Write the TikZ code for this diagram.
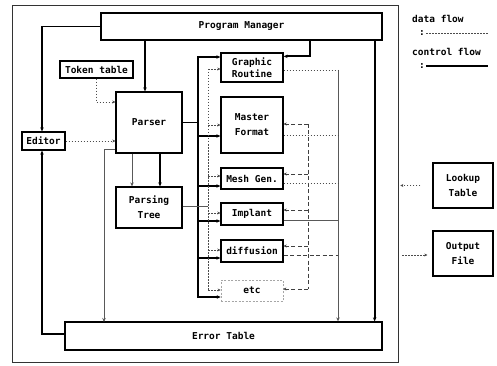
\documentclass[tikz,border=0pt]{standalone}
\usepackage{fontspec}
\setmonofont{DejaVu Sans Mono}
\usetikzlibrary{arrows.meta,calc}
\newcommand{\fnt}{\ttfamily\bfseries\fontsize{9.5}{15}\selectfont}
\tikzset{
  box/.style={draw, line width=1.3pt, inner sep=0pt, font=\fnt, align=center},
  ctrl/.style={line width=1.8pt},
  data/.style={line width=0.6pt, dash pattern=on 1.5pt off 1.5pt, gray!60!black},
  dsh/.style={line width=0.5pt, dash pattern=on 4pt off 2.5pt, gray!50!black},
  thinl/.style={line width=0.7pt, gray!70!black},
  arr/.style={-{Stealth[length=4pt,width=3.5pt]}},
  sarr/.style={-{Stealth[length=3pt,width=3pt]}},
  lbl/.style={font=\fnt, inner sep=0pt, anchor=base west}
}
\begin{document}
\begin{tikzpicture}[x=1pt,y=-1pt]
\useasboundingbox[fill=white] (0,0) rectangle (497,366);
% outer frame
\draw[line width=0.7pt, black!80] (12,5) rectangle (398,362);
% nodes
\node[box, minimum width=281, minimum height=27] (pm) at (241.5,26.5) {Program Manager};
\node[box, minimum width=73, minimum height=17] (token) at (96.5,69.5) {Token table};
\node[box, minimum width=43, minimum height=18] (editor) at (43.5,141) {Editor};
\node[box, minimum width=66, minimum height=61] (parser) at (149,122.5) {Parser};
\node[box, minimum width=66, minimum height=41] (ptree) at (149,207.5) {Parsing\\Tree};
\node[box, minimum width=62, minimum height=29, font=\ttfamily\bfseries\fontsize{9.5}{12}\selectfont] (graphic) at (252,67.5) {Graphic\\Routine};
\node[box, minimum width=62, minimum height=56] (master) at (252,125) {Master\\Format};
\node[box, minimum width=62, minimum height=21] (mesh) at (252,178.5) {Mesh Gen.};
\node[box, minimum width=62, minimum height=22] (implant) at (252,214) {Implant};
\node[box, minimum width=62, minimum height=22] (diffusion) at (252,251) {diffusion};
\node[box, draw=gray!70, line width=0.7pt, dash pattern=on 2pt off 1.5pt, minimum width=62, minimum height=21] (etc) at (252,290.5) {etc};
\node[box, minimum width=317, minimum height=28] (error) at (223.5,336) {Error Table};
\node[box, minimum width=60, minimum height=45] (lookup) at (463,185.5) {Lookup\\Table};
\node[box, minimum width=60, minimum height=45] (output) at (463,253.5) {Output\\File};
% legend
\node[lbl] (l1) at (412,23) {data flow};
\node[lbl] (l2) at (419,36) {:};
\coordinate (l2a) at (426,33);
\coordinate (l2b) at (488,33);
\draw[data] (l2a) -- (l2b);
\node[lbl] (l3) at (412,56) {control flow};
\node[lbl] (l4) at (419,69) {:};
\coordinate (l4a) at (426,66);
\coordinate (l4b) at (488,66);
\draw[ctrl] (l4a) -- (l4b);
% control flow
\draw[ctrl,arr] (pm.west) -| ([xshift=-1.5pt]editor.north);
\draw[ctrl,arr] ([yshift=2pt]error.west) -| ([xshift=-1.5pt]editor.south);
\draw[ctrl,arr] ([xshift=-4pt]parser.north |- pm.south) -- ([xshift=-4pt]parser.north);
\draw[ctrl,arr] ([xshift=210pt]pm.south west) |- ([yshift=-4pt]graphic.north east);
\draw[ctrl,arr] ([xshift=-8pt]pm.south east) -- ([xshift=-8pt]error.north east);
\draw[ctrl,arr] ([xshift=11pt]parser.south) -- ([xshift=11pt]ptree.north);
\draw[thinl,arr] ([xshift=-17pt]parser.south) -- ([xshift=-17pt]ptree.north);
% control bus
\coordinate (cb1) at (198,57);
\coordinate (cb2) at (198,297);
\draw[ctrl] ([yshift=0.9pt]cb1) -- ([yshift=-0.9pt]cb2);
\draw[ctrl] (parser.east) -- (parser.east -| cb1);
\foreach \n/\y in {graphic/57, master/136, mesh/186, implant/221, diffusion/258, etc/297}
  \draw[ctrl,arr] (cb1 |- 0,\y) -- (\n.west |- 0,\y);
% parser -> error table
\draw[thinl,arr] ([yshift=-26.5pt]parser.west) -| (104,322);
% editor -> parser, token table -> parser
\draw[data,sarr] (editor.east) -- (editor.east -| parser.west);
\draw[data,sarr] ([xshift=-0.5pt]token.south) |- ([yshift=20.5pt]parser.west);
% data bus from parsing tree
\coordinate (db1) at (208,69);
\coordinate (db2) at (208,290);
\draw[data] (db1) -- (db2);
\draw[thinl] ([yshift=1.5pt]ptree.east) -- ([yshift=1.5pt]ptree.east -| db1);
\foreach \n/\y in {graphic/69, master/125, mesh/176, implant/213, diffusion/250, etc/290}
  \draw[data,sarr] (db1 |- 0,\y) -- (\n.west |- 0,\y);
% lookup bus
\coordinate (lb1) at (308,124);
\coordinate (lb2) at (308,289);
\draw[dsh] (lb1) -- (lb2);
\foreach \n/\y in {master/124, mesh/174, implant/210, diffusion/246, etc/289}
  \draw[dsh,sarr] (lb1 |- 0,\y) -- (\n.east |- 0,\y);
% error bus
\coordinate (eb1) at (338,70);
\draw[thinl,arr] (eb1) -- (eb1 |- error.north);
\draw[data] (graphic.east |- eb1) -- (eb1);
\draw[data] (master.east |- 0,135) -- (eb1 |- 0,135);
\draw[data] (mesh.east |- 0,183) -- (eb1 |- 0,183);
\draw[thinl] (implant.east |- 0,220) -- (eb1 |- 0,220);
\draw[dsh] (diffusion.east |- 0,255) -- (eb1 |- 0,255);
% external files
\draw[data,sarr] ([xshift=-12pt]lookup.west) -- ([xshift=-32pt]lookup.west);
\draw[data,sarr] ([xshift=-30pt,yshift=-1.5pt]output.west) -- ([xshift=-5pt,yshift=-1.5pt]output.west);
\end{tikzpicture}
\end{document}
